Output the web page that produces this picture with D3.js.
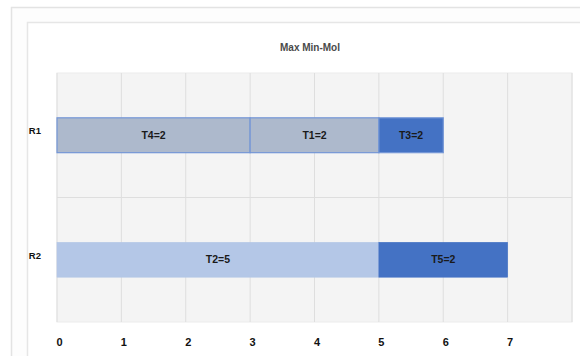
<!DOCTYPE html>
<html>
<head>
<meta charset="utf-8">
<script src="https://cdn.jsdelivr.net/npm/d3@7"></script>
<style>
  html, body { margin: 0; padding: 0; background: #fff; }
  svg { display: block; font-family: "Liberation Sans", Arial, sans-serif; }
</style>
</head>
<body>
<svg id="chart" width="580" height="356"></svg>
<script>
// ---- data ----
const categories = ["R1", "R2"];
const taskLabels = ["T4=2", "T1=2", "T3=2", "T2=5", "T5=2"];
const taskRows   = ["R1", "R1", "R1", "R2", "R2"];
const taskStarts = [0, 3, 5, 0, 5];
const taskEnds   = [3, 5, 6, 5, 7];
const taskColors = ["#adb9cc", "#adb9cc", "#4472c4", "#b4c7e7", "#4472c4"];
const xTickValues = [0, 1, 2, 3, 4, 5, 6, 7];
const xDomain = [0, 8];
const chartTitle = "Max Min-Mol";

const svg = d3.select("#chart");

// chart frames
svg.append("rect").attr("x", 11.5).attr("y", 7.5).attr("width", 600).attr("height", 400)
  .attr("fill", "#fdfdfd").attr("stroke", "#e3e3e3").attr("stroke-width", 1.5);
svg.append("rect").attr("x", 27.5).attr("y", 22.5).attr("width", 600).attr("height", 400)
  .attr("fill", "#ffffff").attr("stroke", "#e6e6e6").attr("stroke-width", 1.5);

const plotL = 57, plotR = 572, plotT = 73, plotB = 322;

const x = d3.scaleLinear().domain(xDomain).range([plotL, plotR]);
const y = d3.scaleBand().domain(categories).range([plotT, plotB])
  .paddingInner(0.72).paddingOuter(0.36);

// plot background
svg.append("rect").attr("x", plotL).attr("y", plotT)
  .attr("width", plotR - plotL).attr("height", plotB - plotT)
  .attr("fill", "#f4f4f4").attr("stroke", "#ececec");

// vertical gridlines
svg.append("g").selectAll("line").data(d3.range(xDomain[0], xDomain[1] + 1)).join("line")
  .attr("x1", d => x(d)).attr("x2", d => x(d))
  .attr("y1", plotT).attr("y2", plotB)
  .attr("stroke", "#dedede").attr("stroke-width", 1);

// horizontal category separator
svg.append("g").selectAll("line").data(categories.slice(1)).join("line")
  .attr("x1", plotL).attr("x2", plotR)
  .attr("y1", d => y(d) - y.step() * y.paddingInner() / 2)
  .attr("y2", d => y(d) - y.step() * y.paddingInner() / 2)
  .attr("stroke", "#dedede").attr("stroke-width", 1.2);

// title
svg.append("text").attr("x", 310).attr("y", 51)
  .attr("text-anchor", "middle").attr("font-size", 10).attr("font-weight", "bold")
  .attr("fill", "#4a4a4a").text(chartTitle);

// bars
const tasks = taskLabels.map((lab, i) => ({
  label: lab, row: taskRows[i], start: taskStarts[i], end: taskEnds[i], color: taskColors[i]
}));

const barG = svg.append("g");
barG.selectAll("rect").data(tasks).join("rect")
  .attr("x", d => x(d.start))
  .attr("y", d => y(d.row))
  .attr("width", d => x(d.end) - x(d.start))
  .attr("height", y.bandwidth())
  .attr("fill", d => d.color)
  .attr("stroke", d => d.row === "R1" ? "#7396d6" : d.color)
  .attr("stroke-width", d => d.row === "R1" ? 1.2 : 0.6);

barG.selectAll("text").data(tasks).join("text")
  .attr("x", d => (x(d.start) + x(d.end)) / 2)
  .attr("y", d => y(d.row) + y.bandwidth() / 2)
  .attr("dy", "0.35em")
  .attr("text-anchor", "middle")
  .attr("font-size", 10.5).attr("font-weight", "bold")
  .attr("fill", "#1a1a1a")
  .text(d => d.label);

// x axis
const xAxis = svg.append("g").attr("transform", "translate(2, 335)")
  .call(d3.axisBottom(x).tickValues(xTickValues).tickSize(0).tickPadding(3).tickFormat(d3.format("d")));
xAxis.select(".domain").remove();
xAxis.selectAll("text").attr("font-size", 11).attr("font-weight", "bold")
  .attr("fill", "#111").attr("font-family", "'Liberation Sans', Arial, sans-serif");

// y axis
const yAxis = svg.append("g").attr("transform", "translate(43, -4)")
  .call(d3.axisLeft(y).tickSize(0).tickPadding(2));
yAxis.select(".domain").remove();
yAxis.selectAll("text").attr("font-size", 9.5).attr("font-weight", "bold")
  .attr("fill", "#111").attr("font-family", "'Liberation Sans', Arial, sans-serif");
</script>
</body>
</html>
